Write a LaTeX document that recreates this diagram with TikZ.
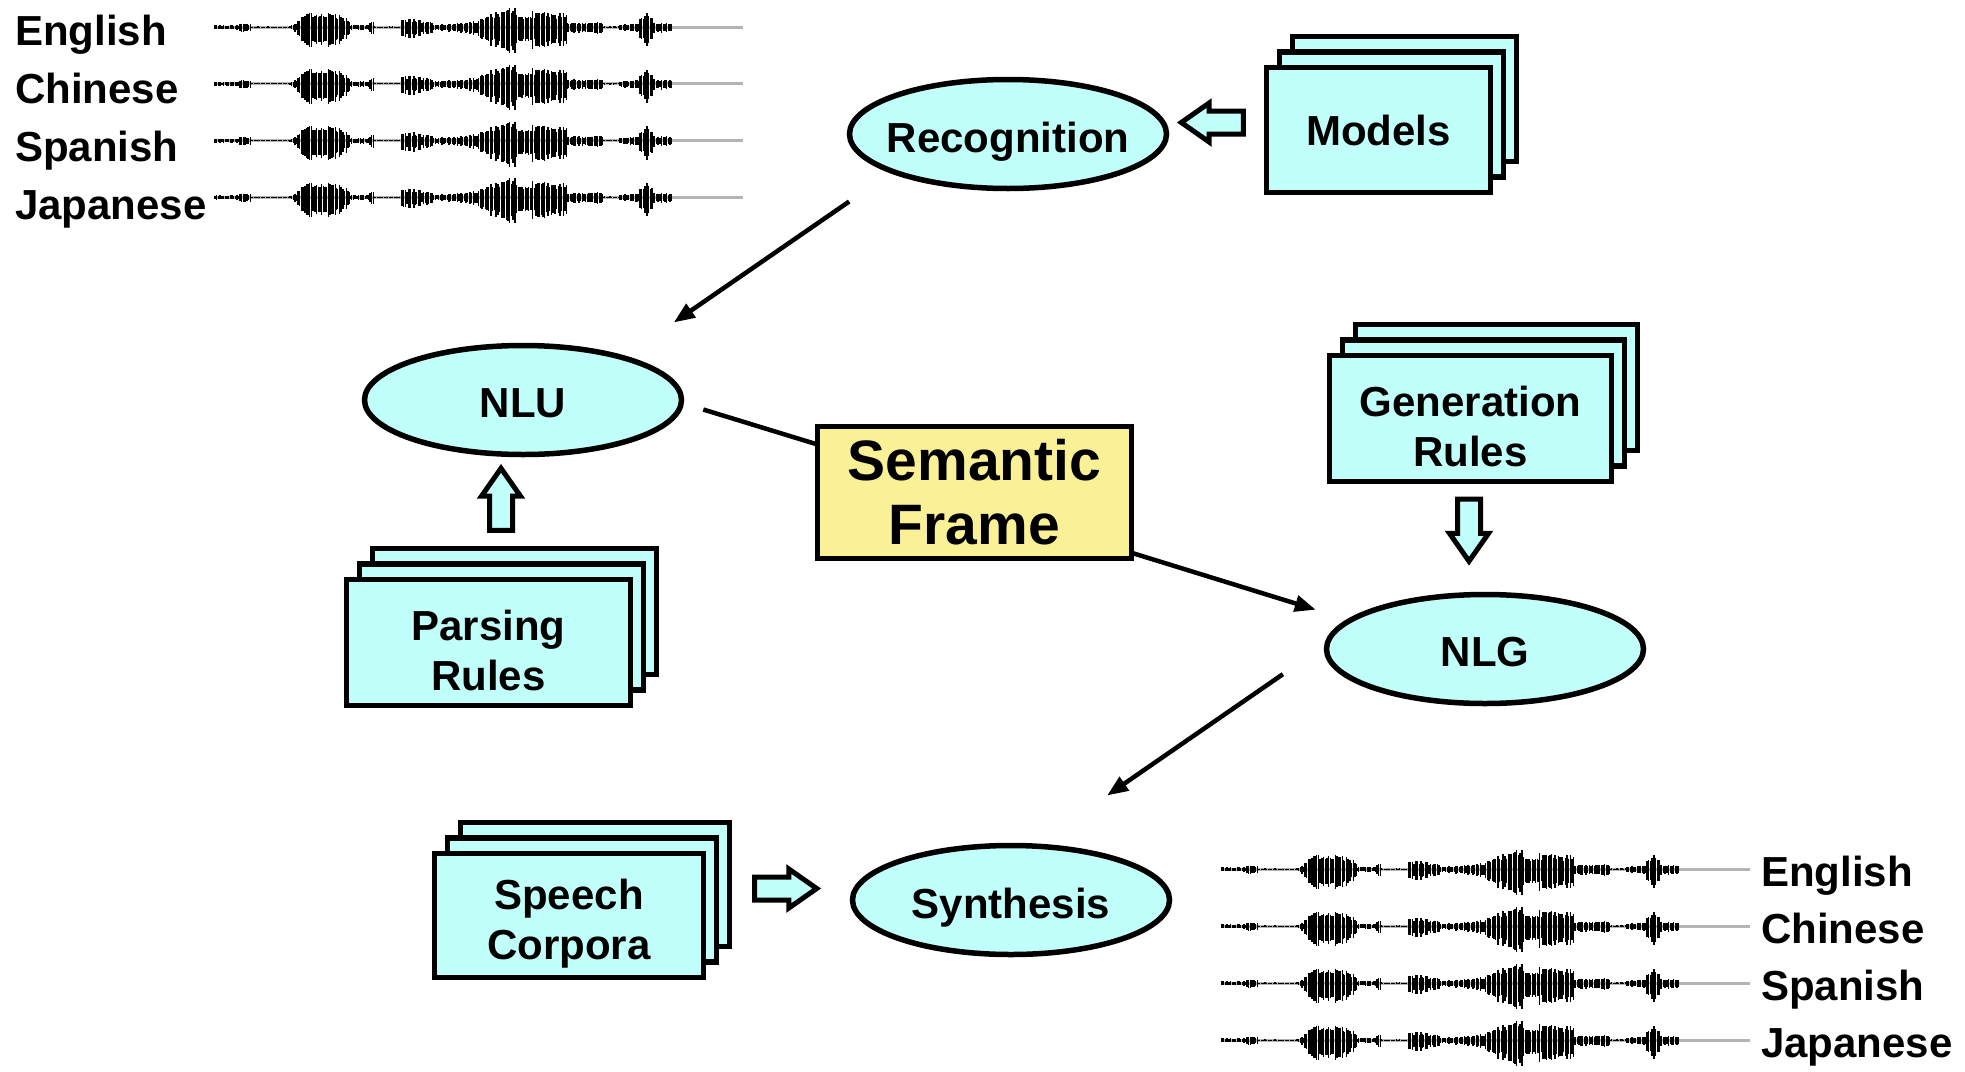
\documentclass[tikz,border=0pt]{standalone}
\usepackage{fontspec}
\setmainfont{Liberation Sans}
\usepackage{tikz}
\usetikzlibrary{positioning, shapes.geometric, shapes.arrows, shadows, arrows.meta}

\definecolor{boxcyan}{RGB}{192,255,250}
\definecolor{frameyellow}{RGB}{250,240,150}
\definecolor{wavegray}{RGB}{180,180,180}

% taller first line, so two-line box texts sit a little low
\newcommand{\firstgap}{\rule{0pt}{46pt}}

% one speech waveform: grey base line plus vertical strokes under an envelope
\newcommand{\speechwave}[2]{%
  \begin{scope}[shift={(#1,#2)}]
    \draw[wavegray, line width=3pt] (0,0) -- (528,0);
    \pgfmathsetseed{11}
    \foreach \wa/\wb/\wh/\wk in {0/25/2.5/3, 25/36/5/5, 36/75/0.8/0.8, 75/83/2/6,
        83/93/13/21, 93/121/22/22, 121/135/20/11, 135/155/3.5/3.5, 155/159/9/9,
        159/187/0.8/0.8, 187/200/12/12, 200/222/11/5, 222/255/4/7, 255/276/8/17,
        276/300/21/28, 300/316/22/18, 316/352/22/19, 352/388/6/7, 388/405/1/1,
        405/425/4/5, 425/438/17/22, 438/458/7/5}{
      \pgfmathtruncatemacro{\wn}{(\wb-\wa)/1.7}
      \foreach \wi in {0,...,\wn}{
        \pgfmathsetmacro{\wx}{\wa+1.7*\wi}
        \pgfmathsetmacro{\wy}{(\wh+(\wk-\wh)*\wi/max(\wn,1))*(0.55+0.45*rnd)}
        \draw[line width=1.4pt] (\wx,-0.72*\wy) -- (\wx,\wy);
      }
    }
  \end{scope}}

\begin{document}
\begin{tikzpicture}[x=1pt, y=-1pt,
    txt/.style = {font=\fontsize{42}{50}\selectfont\bfseries},
    task/.style = {draw, ellipse, fill=boxcyan, line width=5.5pt, outer sep=0pt,
        minimum width=317pt, minimum height=109pt},
    tasktext/.style = {txt, text depth=0pt, yshift=-3pt},
    stack/.style = {txt, draw, fill=boxcyan, line width=5.5pt, align=center, inner sep=0pt,
        copy shadow={shadow xshift=26pt, shadow yshift=31pt, fill=boxcyan, draw=black, line width=5.5pt},
        copy shadow={shadow xshift=13pt, shadow yshift=15.5pt, fill=boxcyan, draw=black, line width=5.5pt}},
    block/.style = {draw, fill=boxcyan, line width=5pt, single arrow, inner sep=9pt,
        minimum height=62pt, minimum width=34pt, single arrow head extend=8pt, single arrow tip angle=70},
    conn/.style = {line width=4.5pt, -{Triangle[length=21pt, width=16pt]}},
    lang/.style = {txt, anchor=base west, inner sep=0pt}]

    \path[use as bounding box, fill=white] (0,0) rectangle (1965,1071);

    % input and output speech
    \foreach \lang [count=\i from 0] in {English,Chinese,Spanish,Japanese}{
        \node[lang] (inL\i) at (15, 45+58*\i) {\lang};
        \speechwave{215}{27+56.7*\i}
        \node[lang] (outL\i) at (1761, 886+57*\i) {\lang};
        \speechwave{1222}{869+57*\i}
    }

    \node[task, label={[tasktext]center:Recognition}] (recog) at (1008,134) {};
    \node[task, label={[tasktext]center:NLU}] (nlu) at (523,400) {};
    \node[task, label={[tasktext]center:NLG}] (nlg) at (1485,649) {};
    \node[task, label={[tasktext]center:Synthesis}] (synth) at (1011,900) {};

    \node[draw, fill=frameyellow, line width=5.5pt, outer sep=0pt, align=center,
        font=\fontsize{57}{64}\selectfont\bfseries, minimum width=314pt, minimum height=132pt]
        (frame) at (974.5,492.5) {Semantic\\Frame};

    \node[stack, minimum width=224pt, minimum height=125pt] (models) at (1378.5,130) {Models};
    \node[stack, minimum width=282pt, minimum height=126pt] (genrules) at (1470.5,418.5) {\firstgap Generation\\Rules};
    \node[stack, minimum width=284pt, minimum height=126pt] (parsing) at (488.5,642.5) {\firstgap Parsing\\Rules};
    \node[stack, minimum width=269pt, minimum height=124pt] (corpora) at (569,915.5) {\firstgap Speech\\Corpora};

    \node[block, shape border rotate=180] (m2r) at (1220.5,122.5) {};
    \node[block, shape border rotate=90] (p2n) at (501,507.5) {};
    \node[block, shape border rotate=270] (g2n) at (1469,522) {};
    \node[block] (c2s) at (777.5,888.5) {};

    \draw[conn, shorten <=53pt, shorten >=62pt] (recog.198.4) -- (nlu.23);
    \draw[line width=4.5pt, shorten <=23pt] (nlu.359) -- (frame.163.7);
    \draw[conn, shorten >=36pt] (frame.339.2) -- (nlg.168.65);
    \draw[conn, shorten <=54pt, shorten >=89pt] (nlg.178.4) -- (synth.67.6);
\end{tikzpicture}
\end{document}
